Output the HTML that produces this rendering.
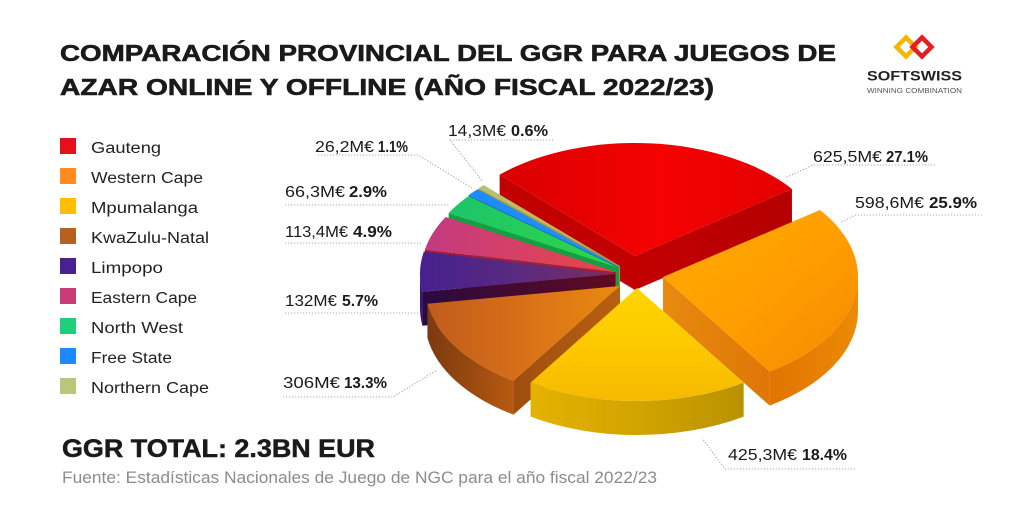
<!DOCTYPE html>
<html><head><meta charset="utf-8"><style>
html,body{margin:0;padding:0;background:#fff;}
svg{display:block;font-family:"Liberation Sans",sans-serif;}
</style></head><body>
<svg id="s" xmlns="http://www.w3.org/2000/svg" width="1024" height="512" viewBox="0 0 1024 512">
<defs>
<linearGradient id="t0" x1="0" y1="0" x2="1" y2="0"><stop offset="0" stop-color="#d90000"/><stop offset="0.55" stop-color="#f50202"/><stop offset="1" stop-color="#e40000"/></linearGradient>
<linearGradient id="c0" x1="0" y1="0" x2="1" y2="0"><stop offset="0" stop-color="#c20000"/><stop offset="1" stop-color="#b40000"/></linearGradient>
<linearGradient id="t1" x1="0" y1="0" x2="1" y2="1"><stop offset="0" stop-color="#ffac00"/><stop offset="0.5" stop-color="#ff9e00"/><stop offset="1" stop-color="#f58a00"/></linearGradient>
<linearGradient id="s1" x1="0" y1="0" x2="1" y2="0"><stop offset="0" stop-color="#e27400"/><stop offset="1" stop-color="#ec8a06"/></linearGradient>
<linearGradient id="c1" x1="0" y1="0" x2="1" y2="0"><stop offset="0" stop-color="#e88a10"/><stop offset="1" stop-color="#de7606"/></linearGradient>
<linearGradient id="t2" x1="0" y1="0" x2="0" y2="1"><stop offset="0" stop-color="#ffd600"/><stop offset="0.6" stop-color="#fcc600"/><stop offset="1" stop-color="#f6b900"/></linearGradient>
<linearGradient id="s2" x1="0" y1="0" x2="1" y2="0"><stop offset="0" stop-color="#e4b200"/><stop offset="0.5" stop-color="#d2a400"/><stop offset="1" stop-color="#b89200"/></linearGradient>
<linearGradient id="t3" x1="0" y1="0" x2="1" y2="0"><stop offset="0" stop-color="#c05c1c"/><stop offset="0.5" stop-color="#d87018"/><stop offset="1" stop-color="#ea8a0e"/></linearGradient>
<linearGradient id="s3" x1="0" y1="0" x2="1" y2="0"><stop offset="0" stop-color="#7a3a10"/><stop offset="0.6" stop-color="#a04c10"/><stop offset="1" stop-color="#b85a10"/></linearGradient>
<linearGradient id="c3" x1="0" y1="0" x2="1" y2="0"><stop offset="0" stop-color="#a04e0e"/><stop offset="1" stop-color="#b86010"/></linearGradient>
<linearGradient id="t4" x1="0" y1="0" x2="1" y2="0"><stop offset="0" stop-color="#46208e"/><stop offset="0.5" stop-color="#5a2a80"/><stop offset="1" stop-color="#7a2e60"/></linearGradient>
<linearGradient id="c4" x1="0" y1="0" x2="1" y2="0"><stop offset="0" stop-color="#2a0a40"/><stop offset="1" stop-color="#600a20"/></linearGradient>
<linearGradient id="t5" x1="0" y1="0" x2="1" y2="0"><stop offset="0" stop-color="#c23a82"/><stop offset="0.5" stop-color="#d64064"/><stop offset="1" stop-color="#e84848"/></linearGradient>
<linearGradient id="t6" x1="0" y1="0" x2="1" y2="0"><stop offset="0" stop-color="#1cc46c"/><stop offset="1" stop-color="#30d840"/></linearGradient>
<linearGradient id="t8" x1="0" y1="0" x2="1" y2="0"><stop offset="0" stop-color="#b8c070"/><stop offset="1" stop-color="#c8b448"/></linearGradient>
</defs>
<rect width="1024" height="512" fill="#fff"/>
<g id="pie"></g>

<!-- Title -->
<text x="60" y="61" font-size="23" font-weight="bold" fill="#1a1a1a" stroke="#1a1a1a" stroke-width="0.6" textLength="776" lengthAdjust="spacingAndGlyphs">COMPARACIÓN PROVINCIAL DEL GGR PARA JUEGOS DE</text>
<text x="60" y="95" font-size="23" font-weight="bold" fill="#1a1a1a" stroke="#1a1a1a" stroke-width="0.6" textLength="654" lengthAdjust="spacingAndGlyphs">AZAR ONLINE Y OFFLINE (AÑO FISCAL 2022/23)</text>

<!-- Logo -->
<g fill="none" stroke-width="4.5" stroke-linejoin="miter">
<path d="M906,37.5 L915.5,47 L906,56.5 L896.5,47 Z" stroke="#f7b500"/>
<path d="M922,37.5 L931.5,47 L922,56.5 L912.5,47 Z" stroke="#e31e24"/>
</g>
<text x="867" y="80.5" font-size="14" font-weight="bold" fill="#222" textLength="95" lengthAdjust="spacingAndGlyphs">SOFTSWISS</text>
<text x="867" y="93" font-size="7.5" fill="#555" textLength="95" lengthAdjust="spacingAndGlyphs">WINNING COMBINATION</text>

<!-- Legend -->
<g font-size="15.5" fill="#222">
<rect x="60" y="138" width="16" height="16" fill="#e5101a"/><text x="91" y="153" textLength="70" lengthAdjust="spacingAndGlyphs">Gauteng</text>
<rect x="60" y="168" width="16" height="16" fill="#ff8a1e"/><text x="91" y="183" textLength="112" lengthAdjust="spacingAndGlyphs">Western Cape</text>
<rect x="60" y="198" width="16" height="16" fill="#ffbf00"/><text x="91" y="213" textLength="107" lengthAdjust="spacingAndGlyphs">Mpumalanga</text>
<rect x="60" y="228" width="16" height="16" fill="#b8601e"/><text x="91" y="243" textLength="118" lengthAdjust="spacingAndGlyphs">KwaZulu-Natal</text>
<rect x="60" y="258" width="16" height="16" fill="#4a2090"/><text x="91" y="273" textLength="72" lengthAdjust="spacingAndGlyphs">Limpopo</text>
<rect x="60" y="288" width="16" height="16" fill="#c83c78"/><text x="91" y="303" textLength="106" lengthAdjust="spacingAndGlyphs">Eastern Cape</text>
<rect x="60" y="318" width="16" height="16" fill="#1fcf7a"/><text x="91" y="333" textLength="92" lengthAdjust="spacingAndGlyphs">North West</text>
<rect x="60" y="348" width="16" height="16" fill="#1e88ff"/><text x="91" y="363" textLength="81" lengthAdjust="spacingAndGlyphs">Free State</text>
<rect x="60" y="378" width="16" height="16" fill="#b8c878"/><text x="91" y="393" textLength="118" lengthAdjust="spacingAndGlyphs">Northern Cape</text>
</g>

<!-- Leader lines -->
<g fill="none" stroke="#a8a8a8" stroke-width="1.1" stroke-dasharray="1.2 1.8">
<polyline points="553,140 450,140 483,182"/>
<polyline points="318,155 418,155 472,188"/>
<polyline points="285,205 450,205"/>
<polyline points="285,243 423,243"/>
<polyline points="285,313 418,313"/>
<polyline points="283,397 393,397 437,370"/>
<polyline points="935,165 813,165 785,178"/>
<polyline points="982,215 855,215 840,223"/>
<polyline points="855,469 725,469 702,438"/>
</g>

<!-- Value labels -->
<g font-size="16" fill="#1a1a1a">
<text x="448" y="136" textLength="58" lengthAdjust="spacingAndGlyphs">14,3M€</text><text x="511" y="136" font-weight="bold" textLength="37" lengthAdjust="spacingAndGlyphs">0.6%</text>
<text x="315" y="152" textLength="59" lengthAdjust="spacingAndGlyphs">26,2M€</text><text x="378" y="152" font-weight="bold" textLength="30" lengthAdjust="spacingAndGlyphs">1.1%</text>
<text x="285" y="197" textLength="60" lengthAdjust="spacingAndGlyphs">66,3M€</text><text x="349" y="197" font-weight="bold" textLength="38" lengthAdjust="spacingAndGlyphs">2.9%</text>
<text x="285" y="237" textLength="63" lengthAdjust="spacingAndGlyphs">113,4M€</text><text x="353" y="237" font-weight="bold" textLength="39" lengthAdjust="spacingAndGlyphs">4.9%</text>
<text x="285" y="306" textLength="52" lengthAdjust="spacingAndGlyphs">132M€</text><text x="342" y="306" font-weight="bold" textLength="36" lengthAdjust="spacingAndGlyphs">5.7%</text>
<text x="283" y="388" textLength="57" lengthAdjust="spacingAndGlyphs">306M€</text><text x="344" y="388" font-weight="bold" textLength="43" lengthAdjust="spacingAndGlyphs">13.3%</text>
<text x="813" y="162" textLength="69" lengthAdjust="spacingAndGlyphs">625,5M€</text><text x="886" y="162" font-weight="bold" textLength="42" lengthAdjust="spacingAndGlyphs">27.1%</text>
<text x="855" y="208" textLength="69" lengthAdjust="spacingAndGlyphs">598,6M€</text><text x="929" y="208" font-weight="bold" textLength="48" lengthAdjust="spacingAndGlyphs">25.9%</text>
<text x="728" y="460" textLength="69" lengthAdjust="spacingAndGlyphs">425,3M€</text><text x="802" y="460" font-weight="bold" textLength="45" lengthAdjust="spacingAndGlyphs">18.4%</text>
</g>

<!-- Footer -->
<text x="62" y="457" font-size="25" font-weight="bold" fill="#1a1a1a" stroke="#1a1a1a" stroke-width="0.5" textLength="313" lengthAdjust="spacingAndGlyphs">GGR TOTAL: 2.3BN EUR</text>
<text x="62" y="483" font-size="16.5" fill="#8c8c8c" textLength="595" lengthAdjust="spacingAndGlyphs">Fuente: Estadísticas Nacionales de Juego de NGC para el año fiscal 2022/23</text>
</svg>
<script>
(function(){
var NS="http://www.w3.org/2000/svg";
var rx=195, ry=113, T=34;
var g=document.getElementById('pie');
function pt(ax,ay,a){var r=a*Math.PI/180;return [ax+rx*Math.cos(r), ay+ry*Math.sin(r)];}
function f(p){return p[0].toFixed(2)+","+p[1].toFixed(2);}
function dn(p){return [p[0],p[1]+T];}
function add(d,fill){var p=document.createElementNS(NS,'path');p.setAttribute('d',d);p.setAttribute('fill',fill);g.appendChild(p);}
var pcts=[27.1,25.9,18.4,13.3,5.7,4.9,2.9,1.1,0.6];
var apex=[[635,256],[663,277],[637,288],[620,286],[615,274],[616,272],[619,268],[619,267],[620,266]];
var top=["url(#t0)","url(#t1)","url(#t2)","url(#t3)","url(#t4)","url(#t5)","url(#t6)","#1e8cff","url(#t8)"];
var side=["#b80000","url(#s1)","url(#s2)","url(#s3)","#38157a","#a02a60","#10a050","#1070d0","#a0a050"];
var cutA=["#c20000","#e88a10","#d4a400","url(#c3)","url(#c4)","#a81c38","#14a040","#0f68c8","#9a9a48"];
var cutB=["url(#c0)","url(#c1)","#c89a00","#a04e0e","#3a1470","#a02a50","#14a040","#0f68c8","#9a9a48"];
var a=-133.96, ang=[];
for(var i=0;i<9;i++){var b=a+pcts[i]*3.6;ang.push([a,b]);a=b;}
var order=[0,8,7,6,5,4,1,3,2];
order.forEach(function(i){
  var a0=ang[i][0], a1=ang[i][1], ax=apex[i][0], ay=apex[i][1];
  var A=[ax,ay];
  // cut faces
  if(Math.cos(a0*Math.PI/180)<0){
    var p=pt(ax,ay,a0);
    add("M"+f(A)+" L"+f(p)+" L"+f(dn(p))+" L"+f(dn(A))+" Z", cutA[i]);
  }
  if(Math.cos(a1*Math.PI/180)>0){
    var q=pt(ax,ay,a1);
    add("M"+f(A)+" L"+f(q)+" L"+f(dn(q))+" L"+f(dn(A))+" Z", cutB[i]);
  }
  // outer side
  var s=Math.max(a0,0), e=Math.min(a1,180);
  if(e>s){
    var S=pt(ax,ay,s), E=pt(ax,ay,e);
    add("M"+f(S)+" A"+rx+" "+ry+" 0 0 1 "+f(E)+" L"+f(dn(E))+" A"+rx+" "+ry+" 0 0 0 "+f(dn(S))+" Z", side[i]);
  }
  // top
  var P0=pt(ax,ay,a0), P1=pt(ax,ay,a1);
  var large=(a1-a0>180)?1:0;
  add("M"+f(A)+" L"+f(P0)+" A"+rx+" "+ry+" 0 "+large+" 1 "+f(P1)+" Z", top[i]);
});
})();
</script>
</body></html>
